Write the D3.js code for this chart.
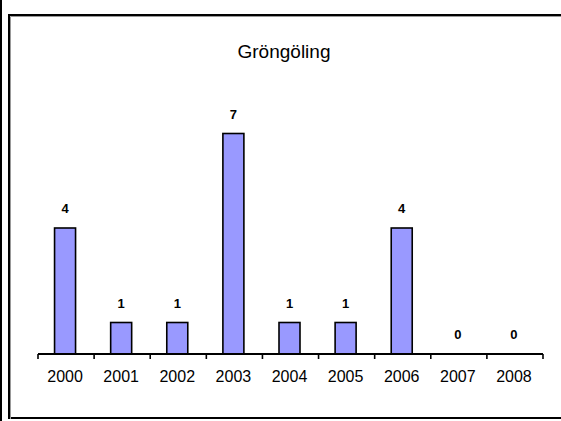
<!DOCTYPE html>
<html><head><meta charset="utf-8">
<script src="https://cdn.jsdelivr.net/npm/d3@7"></script>
<style>body{margin:0;background:#fff;overflow:hidden;}svg{display:block;}</style>
</head><body>
<svg id="c" width="561" height="421"></svg>
<script>
const title = "Gröngöling";
const years = ["2000","2001","2002","2003","2004","2005","2006","2007","2008"];
const counts = [4,1,1,7,1,1,4,0,0];
const yMax = 8;

const svg = d3.select("#c");
// outer left line and frame
svg.append("rect").attr("x",0).attr("y",0).attr("width",2).attr("height",421).attr("fill","#000");
svg.append("rect").attr("x",9).attr("y",15).attr("width",620).attr("height",403)
  .attr("fill","#fff").attr("stroke","#000").attr("stroke-width",2);
svg.append("path").attr("d","M10.5,419 V16.5 H620").attr("fill","none").attr("stroke","#999").attr("stroke-width",1);

const x = d3.scaleBand().domain(years).range([38,543]);
const y = d3.scaleLinear().domain([0,yMax]).range([354,102]);
const bw = 21;

svg.append("text").attr("x",284).attr("y",58).attr("text-anchor","middle")
  .attr("font-family","Liberation Sans, Arial, sans-serif").attr("font-size",19).attr("fill","#000").text(title);

svg.selectAll("rect.bar").data(counts).join("rect").attr("class","bar")
  .attr("x",(d,i)=>x(years[i]) + (x.bandwidth()-bw)/2 - 1)
  .attr("y",d=>y(d)).attr("width",bw).attr("height",d=>y(0)-y(d))
  .attr("fill","#9999FF").attr("stroke","#000").attr("stroke-width",1.6)
  .style("display",d=>d>0?null:"none");

svg.selectAll("text.val").data(counts).join("text").attr("class","val")
  .attr("x",(d,i)=>x(years[i]) + x.bandwidth()/2 - 1)
  .attr("y",d=>y(d)-15).attr("text-anchor","middle")
  .attr("font-family","Liberation Sans, Arial, sans-serif").attr("font-weight","bold")
  .attr("font-size",13).attr("fill","#000").text(d=>d);

// axis
const g = svg.append("g").attr("transform","translate(0,354)");
g.append("line").attr("x1",38).attr("x2",543).attr("stroke","#000").attr("stroke-width",2);
const tickPos = years.map(v=>x(v)).concat([543]);
g.selectAll("line.tk").data(tickPos).join("line").attr("class","tk")
  .attr("x1",d=>d).attr("x2",d=>d).attr("y1",0).attr("y2",5).attr("stroke","#000").attr("stroke-width",1.6);
g.selectAll("text.tl").data(years).join("text").attr("class","tl")
  .attr("x",d=>x(d)+x.bandwidth()/2 - 1).attr("y",28).attr("text-anchor","middle")
  .attr("font-family","Liberation Sans, Arial, sans-serif").attr("font-size",16).attr("fill","#000").text(d=>d);
</script>
</body></html>
